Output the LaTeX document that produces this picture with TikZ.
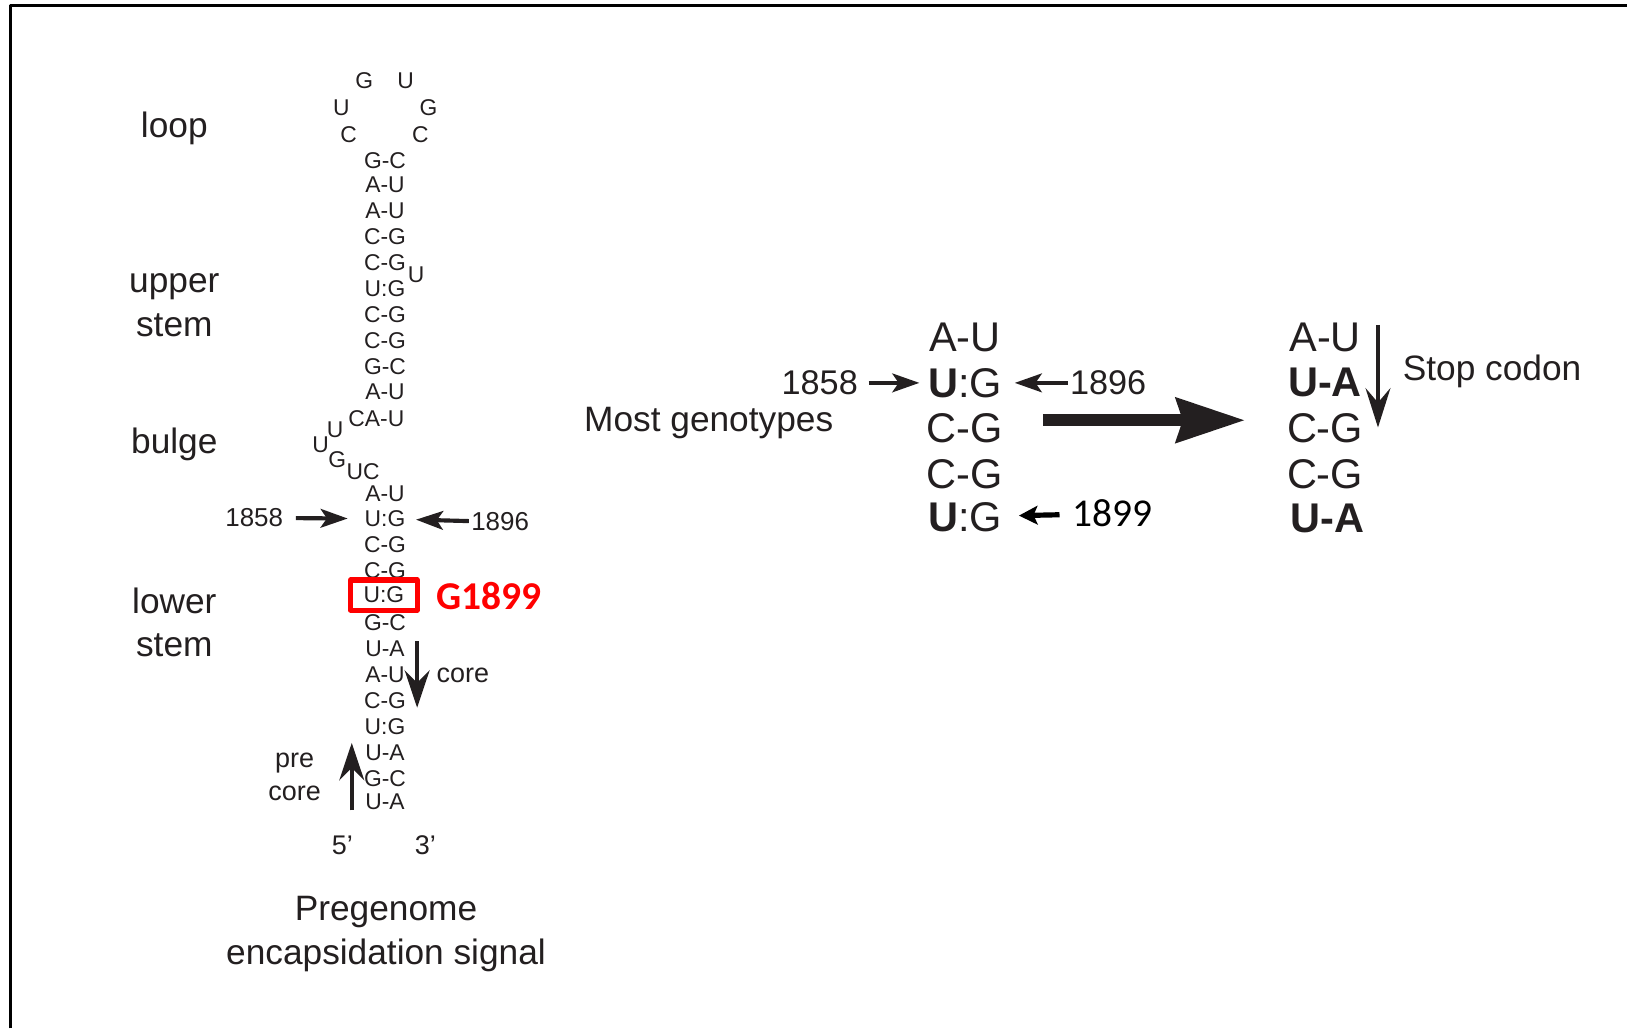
\documentclass[tikz,border=0pt]{standalone}
\usepackage{fontspec}
\setmainfont{Liberation Sans}
\newfontfamily\calibri{Carlito}
\usetikzlibrary{arrows.meta}
\definecolor{ink}{HTML}{231F20}
\tikzset{
  nt/.style={inner sep=1pt, text=ink, font=\fontsize{11}{13}\selectfont},
  lab/.style={inner sep=1pt, text=ink, font=\fontsize{17}{21}\selectfont, align=center},
  small/.style={inner sep=1pt, text=ink, font=\fontsize{13}{16}\selectfont, align=center},
  pair/.style={inner sep=1pt, text=ink, font=\fontsize{20}{24}\selectfont},
  num/.style={inner sep=1pt, text=ink, font=\fontsize{16.5}{20}\selectfont},
  sarrow/.style={draw=ink, line width=2pt, -{Stealth[length=13pt,width=9pt,inset=3pt]}},
  varrow/.style={draw=ink, line width=2pt, -{Stealth[length=18pt,width=12pt,inset=6pt]}}
}
\begin{document}
\begin{tikzpicture}[x=0.5pt,y=-0.5pt,line join=round]
\useasboundingbox (0,0) rectangle (1568,991);
\draw[line width=1.5pt] (10,991) -- (10,5) -- (1568,5);
% loop
\node[nt] (l1) at (351,78) {G};
\node[nt] (l2) at (391,78) {U};
\node[nt] (l3) at (329,104) {U};
\node[nt] (l4) at (413,104) {G};
\node[nt] (l5) at (336,130) {C};
\node[nt] (l6) at (405,130) {C};
% stem
\foreach \y/\t in {155/G-C,178/A-U,203/A-U,228/C-G,253/C-G,278/U:G,303/C-G,328/C-G,353/G-C,378/A-U,
  476/A-U,500/U:G,525/C-G,550/C-G,600/G-C,625/U-A,650/A-U,675/C-G,700/U:G,725/U-A,750/G-C,773/U-A}
  \node[nt] (s\y) at (371,\y) {\t};
\node[nt] (bu0) at (401,265) {U};
\node[nt, anchor=east] (s403) at (392,403) {CA-U};
\node[nt] (bu1) at (323,414) {U};
\node[nt] (bu2) at (309,429) {U};
\node[nt] (bu3) at (325,443) {G};
\node[nt] (bu4) at (350,455) {UC};
\node[nt, draw=red, line width=2.5pt, minimum width=32pt, minimum height=14.5pt] (box) at (370,573.5) {U:G};
\node[inner sep=1pt, text=red, font=\calibri\bfseries\fontsize{19}{22}\selectfont] (g1899) at (471,574) {G1899};
% labels
\node[lab] (loop) at (168,124) {loop};
\node[lab] (upper) at (168,294) {upper\\stem};
\node[lab] (bulge) at (168,428) {bulge};
\node[lab] (lower) at (168,600) {lower\\stem};
\node[lab] (pregen) at (372,900) {Pregenome\\encapsidation signal};
\node[small] (p5) at (330,815) {5'};
\node[small] (p3) at (410,815) {3'};
\node[small] (core) at (446,651) {core};
\node[small] (precore) at (284,749) {pre\\core};
\node[inner sep=1pt, text=ink, font=\fontsize{12.5}{15}\selectfont] (a1858) at (245,499) {1858};
\node[inner sep=1pt, text=ink, font=\fontsize{12.5}{15}\selectfont] (a1896) at (482,503) {1896};
\draw[sarrow, shorten <=5pt, shorten >=7pt] (a1858) -- (s500);
\draw[sarrow, shorten >=4pt] (a1896) -- (s500);
\coordinate (c1) at (402,618);
\coordinate (c2) at (402,682);
\draw[varrow] (c1) -- (c2);
\coordinate (p1) at (339,781);
\coordinate (p2) at (339,716);
\draw[varrow] (p1) -- (p2);
% most genotypes
\node[lab] (most) at (683,408) {Most genotypes};
\node[pair] (m1) at (930,325) {A-U};
\node[pair] (m2) at (930,369) {\textbf{U}:G};
\node[pair] (m3) at (930,413) {C-G};
\node[pair] (m4) at (930,457) {C-G};
\node[pair] (m5) at (930,498) {\textbf{U}:G};
\node[num] (b1858) at (790,369) {1858};
\node[num] (b1896) at (1068,369) {1896};
\node[inner sep=1pt, text=black, font=\calibri\fontsize{19}{22}\selectfont] (b1899) at (1072,495) {1899};
\draw[sarrow, shorten <=4pt, shorten >=3pt] (b1858) -- (m2);
\draw[sarrow, shorten >=5pt] (b1896) -- (m2);
\draw[draw=black, line width=2.5pt, -{Stealth[length=9pt,width=9pt,inset=2pt]}, shorten <=5pt, shorten >=7pt] (b1899) -- (m5);
\coordinate (big1) at (1005,405);
\coordinate (big2) at (1200,405);
\draw[draw=ink, line width=6pt, -{Stealth[length=33pt,width=21pt,inset=3pt]}] (big1) -- (big2);
% stop codon
\node[pair] (r1) at (1277,325) {A-U};
\node[pair] (r2) at (1277,369) {\textbf{U-A}};
\node[pair] (r3) at (1277,413) {C-G};
\node[pair] (r4) at (1277,457) {C-G};
\node[pair] (r5) at (1279,500) {\textbf{U-A}};
\coordinate (st1) at (1328,313);
\coordinate (st2) at (1328,412);
\draw[draw=ink, line width=1.6pt, -{Stealth[length=19pt,width=12pt,inset=7pt]}] (st1) -- (st2);
\node[lab] (stop) at (1438,358) {Stop codon};
\end{tikzpicture}
\end{document}
